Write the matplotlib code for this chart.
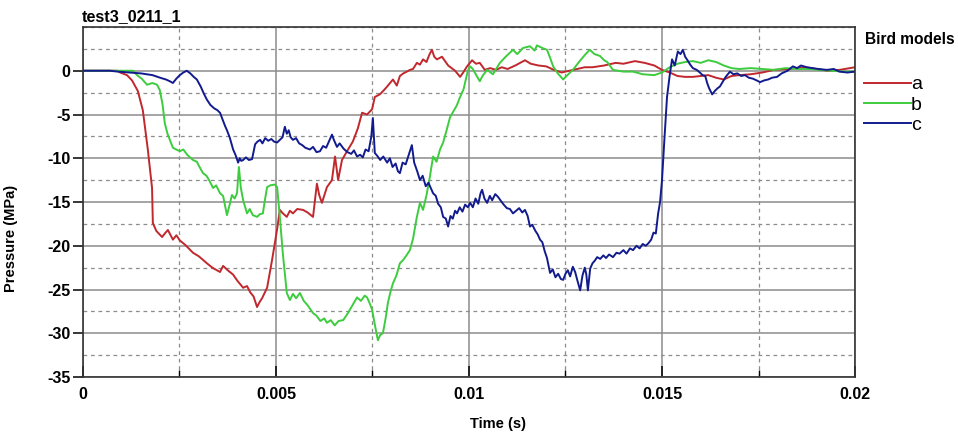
import matplotlib
matplotlib.use("Agg")
import matplotlib.pyplot as plt
from matplotlib.ticker import MultipleLocator, FuncFormatter

plt.rcParams["font.family"] = ["Liberation Sans", "DejaVu Sans"]
plt.rcParams["axes.unicode_minus"] = False

# time in ms, pressure in MPa
a_t = [0, 0.9, 0.96, 1.14, 1.27, 1.42, 1.55, 1.68, 1.79, 1.81, 1.9, 2.05, 2.12, 2.2, 2.33, 2.42, 2.51,
       2.65, 2.85, 3.0, 3.21, 3.35, 3.55, 3.63, 3.75, 3.89, 4.0, 4.15, 4.25, 4.33, 4.42, 4.51, 4.58,
       4.64, 4.77, 4.9, 5.03, 5.1, 5.18, 5.28, 5.36, 5.44, 5.55, 5.7, 5.82, 5.96, 6.06, 6.12, 6.19,
       6.32, 6.45, 6.53, 6.61, 6.71, 6.84, 6.99, 7.12, 7.23, 7.36, 7.49, 7.56, 7.69, 7.8, 7.88, 8.03,
       8.13, 8.21, 8.3, 8.39, 8.47, 8.55, 8.65, 8.73, 8.81, 8.9, 8.97, 9.04, 9.1, 9.17, 9.3, 9.38,
       9.46, 9.55, 9.64, 9.77, 9.85, 9.95, 10.08, 10.18, 10.28, 10.41, 10.55, 10.7, 10.85, 11.0,
       11.2, 11.45, 11.6, 11.8, 12.0, 12.2, 12.4, 12.6, 12.8, 13.0, 13.2, 13.5, 13.8, 14.0, 14.3,
       14.55, 14.8, 15.0, 15.2, 15.4, 15.6, 15.8, 16.0, 16.2, 16.4, 16.6, 16.8, 17.0, 17.3, 17.6,
       17.9, 18.3, 18.7, 19.0, 19.3, 19.6, 20.0]
a_p = [0, 0, -0.2, -0.5, -1.1, -2.3, -4.5, -9.0, -13.4, -17.4, -18.3, -19.0, -18.6, -18.2, -19.3, -18.8, -19.4,
       -19.9, -20.8, -21.2, -22.0, -22.5, -23.0, -22.3, -22.8, -23.3, -24.0, -24.8, -24.6, -25.3, -25.8, -27.0, -26.4,
       -26.0, -24.8, -21.6, -18.1, -15.9, -16.3, -16.7, -16.0, -16.3, -15.8, -15.9, -16.2, -16.7, -12.9, -14.2, -15.1,
       -13.3, -12.5, -9.8, -12.5, -10.2, -9.2, -8.1, -6.6, -4.8, -5.0, -4.4, -3.0, -2.7, -2.2, -1.8, -1.0,
       -1.7, -0.6, -0.3, -0.1, 0.1, 0.2, 0.9, 0.7, 1.3, 1.0, 1.8, 2.4, 1.6, 1.3, 1.6, 1.1,
       0.6, 0.3, 0.0, -0.7, -0.2, 0.5, 1.2, 0.8, 0.9, 0.1, 0.3, 0.1, 0.4, 0.2,
       0.6, 1.2, 0.8, 0.6, 0.5, 0.1, -0.2, 0.0, 0.2, 0.4, 0.4, 0.6, 0.9, 0.8, 1.1,
       0.9, 0.6, 0.1, -0.2, -0.6, -0.7, -0.7, -0.6, -0.5, -0.8, -1.0, -0.6, -0.5, -0.4, -0.2,
       0.1, 0.2, 0.4, 0.2, 0.0, 0.1, 0.4]

b_t = [0, 1.3, 1.4, 1.52, 1.66, 1.8, 1.92, 1.99, 2.06, 2.12, 2.19, 2.25, 2.33, 2.42, 2.51, 2.6, 2.7, 2.85,
       2.95, 3.02, 3.11, 3.2, 3.28, 3.37, 3.45, 3.55, 3.63, 3.73, 3.8, 3.86, 3.93, 3.99, 4.04, 4.09,
       4.15, 4.25, 4.32, 4.4, 4.51, 4.58, 4.66, 4.72, 4.77, 4.85, 4.97, 5.03, 5.1, 5.18, 5.28, 5.36,
       5.44, 5.52, 5.62, 5.72, 5.82, 5.96, 6.05, 6.15, 6.25, 6.32, 6.42, 6.52, 6.62, 6.74, 6.85,
       6.98, 7.1, 7.2, 7.3, 7.36, 7.43, 7.49, 7.56, 7.64, 7.7, 7.77, 7.84, 7.9, 7.97, 8.03, 8.12,
       8.21, 8.3, 8.38, 8.47, 8.55, 8.65, 8.73, 8.81, 8.9, 8.98, 9.07, 9.16, 9.25, 9.33, 9.42,
       9.51, 9.6, 9.68, 9.77, 9.86, 9.97, 10.03, 10.1, 10.2, 10.28, 10.35, 10.47, 10.62, 10.8,
       10.95, 11.14, 11.25, 11.4, 11.58, 11.7, 11.76, 11.9, 12.02, 12.1, 12.18, 12.3, 12.44, 12.55,
       12.69, 12.85, 13.0, 13.13, 13.25, 13.39, 13.5, 13.58, 13.73, 14.0, 14.25, 14.5, 14.8, 15.0,
       15.2, 15.4, 15.6, 15.8, 16.0, 16.2, 16.4, 16.6, 16.8, 17.0, 17.3, 17.6, 17.9, 18.2, 18.5,
       18.8, 19.1, 19.4, 19.7, 20.0]
b_p = [0, 0, -0.5, -0.9, -1.6, -1.4, -1.6, -2.2, -3.8, -6.0, -7.2, -7.9, -8.8, -9.0, -9.2, -9.0, -9.6, -10.2,
       -10.4, -11.0, -11.7, -12.0, -12.6, -13.4, -13.1, -14.0, -14.3, -16.5, -15.3, -14.2, -14.6, -14.0, -11.0, -13.4,
       -14.8, -16.3, -15.8, -16.5, -16.7, -16.4, -16.3, -14.6, -13.3, -13.1, -13.0, -13.3, -16.7, -21.0, -25.4, -26.2,
       -25.5, -26.0, -25.4, -26.3, -26.8, -27.7, -28.0, -28.6, -28.3, -28.8, -28.5, -29.1, -28.6, -28.5, -27.8,
       -26.8, -25.9, -26.3, -25.7, -25.9, -26.6, -27.3, -29.0, -30.8, -30.2, -30.0, -28.3, -26.5, -25.2, -24.3, -23.4,
       -22.0, -21.6, -21.1, -20.5, -19.2, -16.7, -15.1, -15.9, -14.2, -12.3, -9.8, -10.4, -9.0, -8.2, -6.8,
       -5.3, -4.6, -4.0, -3.0, -2.1, 0.0, 0.5, 0.2, -0.6, -1.2, -0.6, 0.1, -0.4, 0.9,
       1.6, 2.4, 1.9, 2.6, 2.8, 2.3, 2.9, 2.6, 2.4, 1.5, 0.5, -0.3, -1.0, -0.5,
       0.1, 1.0, 1.8, 2.4, 1.9, 1.7, 1.2, 1.0, 0.1, -0.1, -0.1, -0.4, -0.5, -0.2,
       0.4, 0.8, 1.0, 1.1, 0.9, 1.2, 1.0, 0.6, 0.3, 0.2, 0.3, 0.2, 0.1, 0.3, 0.2,
       0.2, 0.1, 0.0, -0.1, -0.1]

c_t = [0, 0.7, 0.9, 1.2, 1.5, 1.8, 2.0, 2.15, 2.25, 2.33, 2.42, 2.51, 2.6, 2.69, 2.78, 2.87, 2.95, 3.05,
       3.13, 3.21, 3.3, 3.4, 3.48, 3.55, 3.62, 3.68, 3.73, 3.8, 3.85, 3.89, 3.95, 4.02, 4.06, 4.1,
       4.15, 4.22, 4.3, 4.38, 4.46, 4.52, 4.59, 4.65, 4.72, 4.8, 4.88, 4.95, 5.03, 5.1, 5.17, 5.23,
       5.28, 5.33, 5.38, 5.44, 5.52, 5.6, 5.68, 5.76, 5.88, 5.96, 6.05, 6.14, 6.22, 6.3, 6.38, 6.45,
       6.5, 6.58, 6.65, 6.75, 6.85, 6.95, 7.02, 7.1, 7.18, 7.25, 7.32, 7.4, 7.47, 7.51, 7.56, 7.62,
       7.7, 7.78, 7.88, 7.95, 8.02, 8.1, 8.16, 8.21, 8.28, 8.36, 8.44, 8.52, 8.58, 8.66, 8.73, 8.8,
       8.88, 8.95, 9.02, 9.07, 9.14, 9.2, 9.27, 9.33, 9.4, 9.46, 9.52, 9.58, 9.64, 9.69, 9.76, 9.83,
       9.9, 9.97, 10.03, 10.1, 10.17, 10.24, 10.3, 10.34, 10.4, 10.47, 10.54, 10.6, 10.68, 10.75,
       10.83, 10.9, 10.98, 11.06, 11.14, 11.22, 11.3, 11.38, 11.45, 11.52, 11.58, 11.64, 11.72,
       11.78, 11.84, 11.9, 11.96, 12.02, 12.1, 12.17, 12.24, 12.31, 12.38, 12.44, 12.5, 12.56,
       12.62, 12.69, 12.75, 12.81, 12.88, 12.94, 13.0, 13.04, 13.08, 13.14, 13.2, 13.26, 13.32,
       13.4, 13.48, 13.55, 13.63, 13.73, 13.82, 13.9, 14.0, 14.08, 14.17, 14.25, 14.34, 14.42,
       14.5, 14.58, 14.65, 14.72, 14.78, 14.84, 14.9, 14.95, 15.0, 15.06, 15.13, 15.2, 15.26,
       15.33, 15.41, 15.48, 15.54, 15.6, 15.66, 15.73, 15.8, 15.9, 15.98, 16.05, 16.12, 16.17,
       16.22, 16.3, 16.37, 16.44, 16.5, 16.58, 16.65, 16.76, 16.85, 16.95, 17.05, 17.15, 17.25,
       17.35, 17.45, 17.54, 17.65, 17.75, 17.85, 17.98, 18.1, 18.25, 18.39, 18.5, 18.6, 18.75,
       18.9, 19.05, 19.27, 19.45, 19.6, 19.8, 20.0]
c_p = [0, 0, -0.1, -0.2, -0.3, -0.5, -0.8, -1.0, -1.2, -1.4, -0.9, -0.5, -0.2, 0.0, -0.3, -0.7, -1.0, -1.8,
       -2.6, -3.3, -3.9, -4.3, -4.5, -4.8, -5.6, -6.3, -6.8, -7.6, -8.4, -9.0, -9.6, -10.5, -10.0, -10.3,
       -10.2, -9.9, -10.2, -10.1, -8.4, -8.1, -7.9, -8.3, -7.7, -8.0, -7.8, -8.1, -8.2, -7.9, -7.6, -6.4,
       -7.2, -6.8, -7.6, -7.9, -7.7, -8.3, -8.5, -8.8, -9.0, -8.7, -9.3, -9.2, -8.6, -8.8, -8.0, -7.3,
       -7.9, -8.7, -8.3, -8.9, -9.3, -9.5, -9.1, -9.8, -9.6, -9.9, -9.0, -9.2, -7.5, -5.4, -9.4, -9.7,
       -10.2, -9.8, -10.5, -10.0, -11.0, -10.6, -11.5, -11.7, -10.5, -10.7, -9.6, -8.5, -10.5, -11.5, -12.5, -12.0,
       -13.2, -12.8, -13.5, -14.0, -14.3, -15.2, -15.6, -16.7, -16.9, -17.8, -16.6, -16.9, -16.0, -16.3, -15.6, -16.1,
       -15.3, -15.6, -15.1, -15.6, -14.6, -15.2, -14.0, -13.6, -14.6, -15.1, -14.3, -14.8, -14.1, -14.4,
       -14.9, -15.3, -15.7, -15.8, -16.3, -16.0, -15.7, -16.2, -15.9, -16.6, -17.8, -17.6, -18.3,
       -18.7, -19.3, -19.6, -20.6, -21.4, -23.1, -22.7, -23.6, -23.2, -23.8, -23.9, -23.2, -22.8,
       -23.5, -22.4, -23.0, -24.0, -25.1, -23.4, -22.5, -23.3, -25.1, -22.6, -22.0, -21.7, -21.3,
       -21.5, -21.1, -21.4, -21.0, -21.3, -20.8, -20.9, -20.5, -20.9, -20.3, -20.5, -20.0, -20.3,
       -19.8, -20.0, -19.7, -19.3, -18.5, -18.6, -16.3, -15.0, -12.5, -8.0, -3.0, -0.5, 1.3,
       0.6, 2.2, 1.9, 2.4, 1.6, 1.2, 0.7, 0.3, 0.1, -0.2, -0.5, -0.6, -1.4,
       -2.0, -2.7, -2.3, -2.0, -1.8, -1.2, -0.7, -0.1, -0.4, -0.3, -0.6, -0.5, -0.8,
       -0.9, -1.1, -1.3, -1.1, -1.0, -0.8, -0.7, -0.3, 0.0, 0.5, 0.3, 0.6, 0.4,
       0.3, 0.2, 0.1, 0.2, -0.1, -0.2, -0.1]

labels = ["a", "b", "c"]
colors = ["#c0282d", "#3dcc3d", "#121b8e"]

fig = plt.figure(figsize=(9.58, 4.34), dpi=100)
ax = fig.add_axes([0.0866, 0.1313, 0.8059, 0.8065])

for t, p, lab, col in zip([a_t, b_t, c_t], [a_p, b_p, c_p], labels, colors):
    ax.plot([v / 1000 for v in t], p, color=col, lw=1.4, label=lab)

ax.set_xlim(0, 0.02)
ax.set_ylim(-35, 5)
ax.xaxis.set_major_locator(MultipleLocator(0.005))
ax.xaxis.set_minor_locator(MultipleLocator(0.0025))
ax.yaxis.set_minor_locator(MultipleLocator(2.5))
ax.set_yticks([-35, -30, -25, -20, -15, -10, -5, 0])
ax.xaxis.set_major_formatter(FuncFormatter(lambda v, pos: "%g" % round(v, 4)))

ax.grid(which="major", color="#8c8c8c", lw=1.1, ls="-")
ax.grid(which="minor", color="#8c8c8c", lw=0.9, ls=(0, (3, 3)))
ax.set_axisbelow(True)

ax.tick_params(axis="x", which="major", direction="in", length=8, width=1.1, labelsize=11.5, pad=7)
ax.tick_params(axis="x", which="minor", direction="in", length=5, width=1)
ax.tick_params(axis="y", which="major", direction="out", length=7, width=1.1, labelsize=11.5, pad=2)
ax.tick_params(axis="y", which="minor", length=0)
for lbl in ax.get_xticklabels() + ax.get_yticklabels():
    lbl.set_fontweight("bold")
for s in ax.spines.values():
    s.set_linewidth(1.2)
    s.set_color("#333333")

ax.set_xlabel("Time (s)", fontsize=10.5, fontweight="bold")
ax.xaxis.set_label_coords(0.537, -0.115)
ax.set_ylabel("Pressure (MPa)", fontsize=10.5, fontweight="bold")
ax.yaxis.set_label_coords(-0.084, 0.397)

fig.text(0.0856, 0.945, "test3_0211_1", fontsize=11.6, fontweight="bold", ha="left", va="bottom")
fig.text(0.903, 0.908, "Bird models", fontsize=11.2, fontweight="bold", ha="left", va="center")
ax.legend(loc="upper left", bbox_to_anchor=(0.992, 0.905), frameon=False, fontsize=14,
          handlelength=2.4, handletextpad=0.0, labelspacing=0.13, borderaxespad=0.4)

fig.savefig("out.png", dpi=100)
